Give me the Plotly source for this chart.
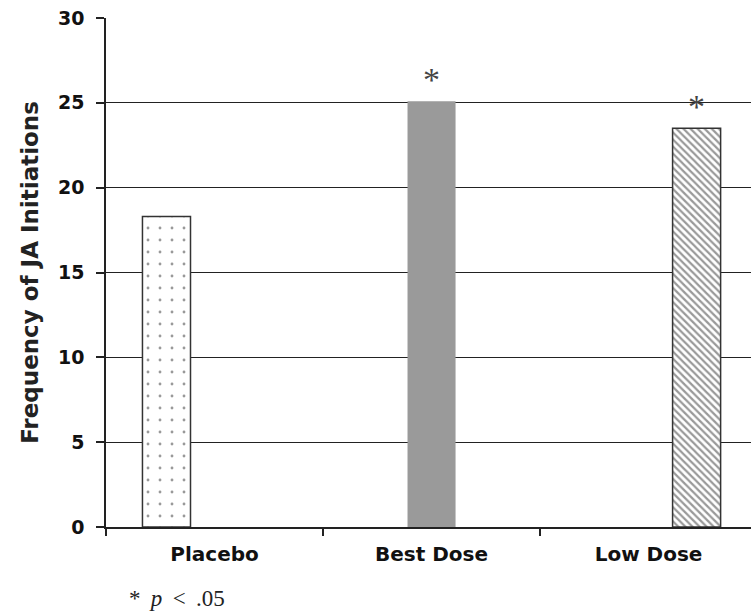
import plotly.graph_objects as go

categories = ["Placebo", "Best Dose", "Low Dose"]
values = [18.3, 25.1, 23.5]
significant = ["", "*", "*"]
y_ticks = [0, 5, 10, 15, 20, 25, 30]

fills = [
    dict(shape=".", fgcolor="#333333", bgcolor="white", size=12, solidity=0.045),
    None,
    dict(shape="\\", fgcolor="#333333", bgcolor="white", size=5, solidity=0.45),
]
colors = ["white", "#9a9a9a", "white"]
line_widths = [1.5, 0, 1.5]

fig = go.Figure()
for i, cat in enumerate(categories):
    marker = dict(color=colors[i], line=dict(color="#333333", width=line_widths[i]))
    if fills[i] is not None:
        marker["pattern"] = fills[i]
    fig.add_trace(go.Bar(
        x=[cat], y=[values[i]], name=cat, marker=marker,
        offsetgroup=str(i), alignmentgroup="all",
        text=[significant[i]], textposition="outside",
        textfont=dict(family="Liberation Serif", size=34, color="#444444"),
        cliponaxis=False,
    ))

fig.update_layout(
    width=751, height=614,
    margin=dict(l=106, r=0, t=18, b=87, autoexpand=False),
    barmode="group", bargap=0.336, bargroupgap=0,
    plot_bgcolor="white", paper_bgcolor="white",
    showlegend=False,
    font=dict(family="DejaVu Sans", color="#111111"),
    xaxis=dict(
        range=[-0.5, 2.472], type="category", automargin=False,
        showline=True, linecolor="#222222", linewidth=1.5,
        ticks="outside", tickson="boundaries", ticklen=7, tickcolor="#222222", tickwidth=1.5,
        tickfont=dict(family="DejaVu Sans", size=20, color="#111111", weight="bold"),
        ticklabelstandoff=8,
        showgrid=False,
    ),
    yaxis=dict(
        range=[0, 30], tickvals=y_ticks, automargin=False,
        showline=True, linecolor="#222222", linewidth=1.5,
        ticks="outside", ticklen=8, tickcolor="#222222", tickwidth=1.5,
        showgrid=True, gridcolor="#222222", gridwidth=1.3,
        zeroline=False,
        tickfont=dict(family="DejaVu Sans", size=19, color="#111111", weight="bold"),
        ticklabelstandoff=8,
        title=dict(text="Frequency of JA Initiations", standoff=13,
                   font=dict(family="DejaVu Sans", size=23, color="#222222", weight="bold")),
    ),
)

fig.add_annotation(
    x=(127 - 106) / 645, y=(527 - 598) / 509, xref="paper", yref="paper",
    xanchor="left", yanchor="middle", showarrow=False,
    text="*\u2009 <i>p</i> \u2009<\u2009 .05",
    font=dict(family="Liberation Serif", size=23, color="#222222"),
)

fig.write_html("out.html", config={"displayModeBar": False},
               post_script="document.body.style.margin='0';")
